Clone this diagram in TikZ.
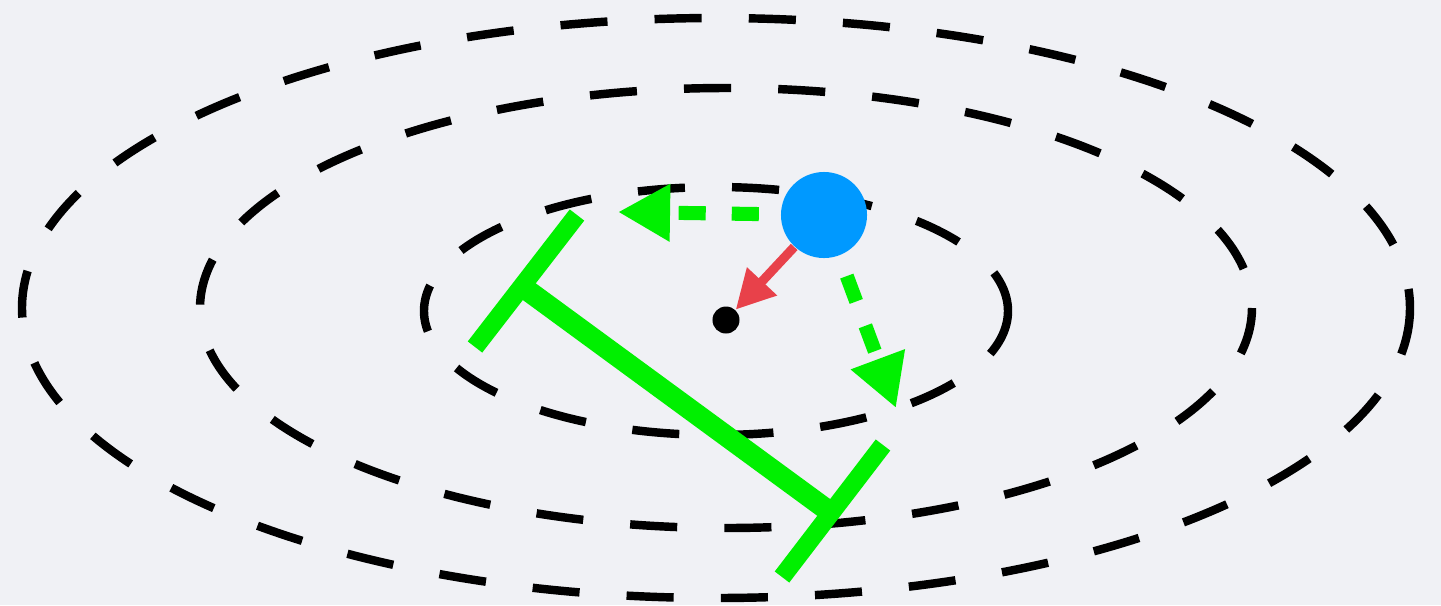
\documentclass[tikz,border=0pt]{standalone}
\usepackage{tikz}
\usetikzlibrary{arrows.meta}
\definecolor{bgcol}{RGB}{240,241,245}
\definecolor{ballblue}{RGB}{0,153,255}
\definecolor{pullred}{RGB}{232,65,74}
\definecolor{barcol}{RGB}{0,240,0}

\begin{document}
\begin{tikzpicture}[x=0.01cm, y=-0.01cm,
  level/.style={draw=black, line width=2.4pt, dash pattern=on 13.4pt off 13.4pt},
  ball/.style={circle, fill=ballblue, inner sep=0pt, minimum size=0.86cm},
  centre/.style={circle, fill=black, inner sep=0pt, minimum size=0.27cm},
  pull/.style={draw=pullred, line width=2.6pt, -{Triangle[length=11pt, width=11pt]}},
  move/.style={draw=barcol, line width=4pt, dash pattern=on 7.7pt off 7.4pt,
    dash phase=9pt, -{Triangle[length=14.8pt, width=15.4pt]}},
  bar/.style={draw=barcol, line width=6pt},
  barend/.style={draw=barcol, line width=5.2pt}]
\fill[bgcol] (0,0) rectangle (1441,605);
\useasboundingbox (0,0) rectangle (1441,605);
% level sets
\draw[level] (716,308) ellipse [x radius=694, y radius=290];
\draw[level] (726,308) ellipse [x radius=526, y radius=220];
\draw[level] (716,311) ellipse [x radius=292, y radius=124];
% distance bar
\draw[bar] (527,290) -- (830,512);
\draw[barend] (577,215) -- (475,347);
\draw[barend] (883,445) -- (782,577);
% point and minimum
\node[centre] (dot) at (726,320) {};
\node[ball] (pt) at (824,215) {};
\coordinate (tipL) at (618,212);
\coordinate (tipR) at (896,408);
\draw[pull] (pt) -- (dot);
\draw[move] (pt) -- (tipL);
\draw[move] (pt) -- (tipR);
\end{tikzpicture}
\end{document}
